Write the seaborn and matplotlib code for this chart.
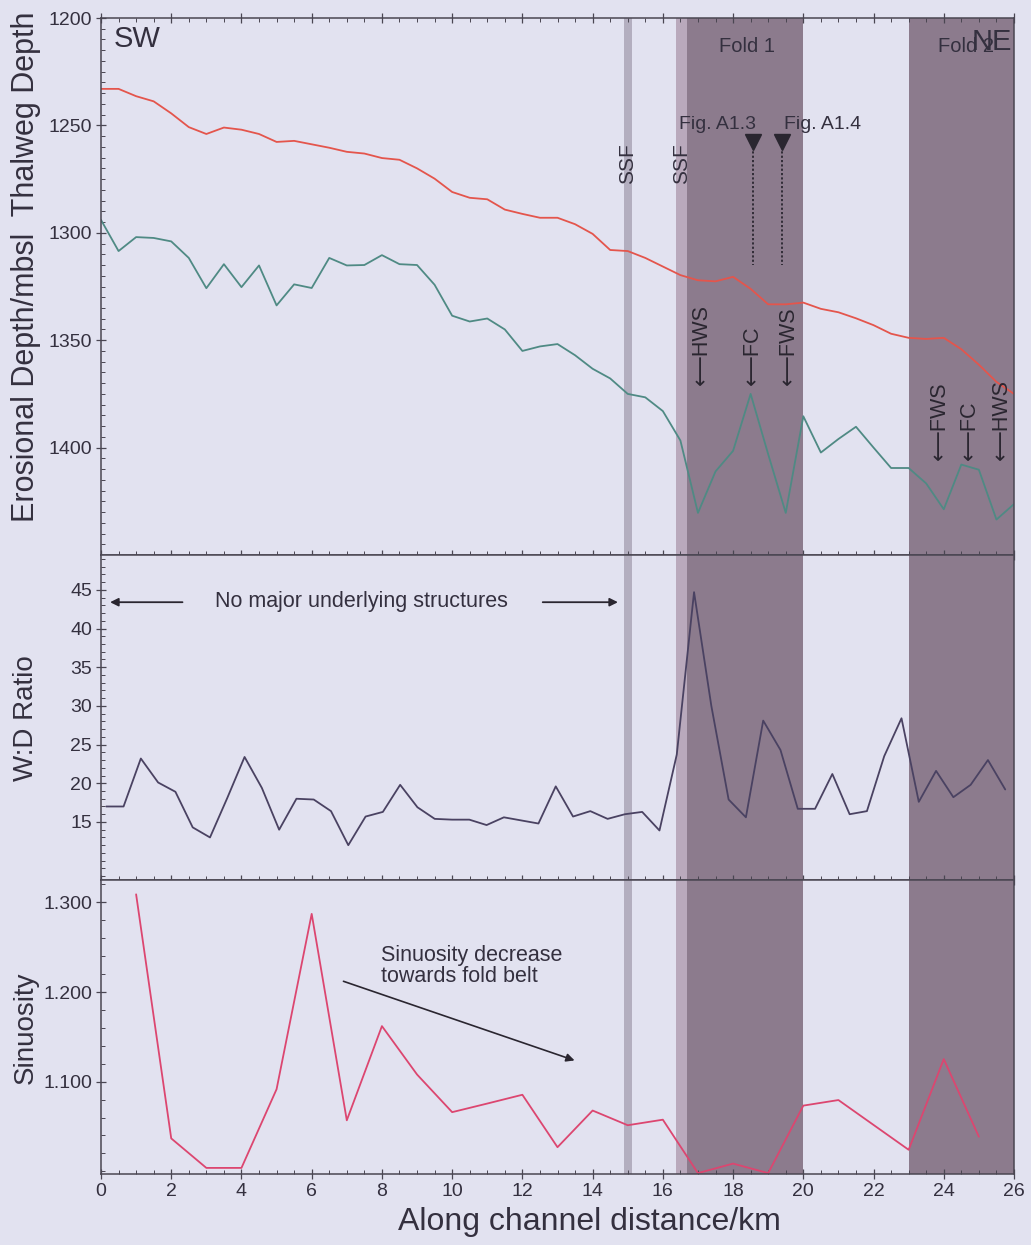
import numpy as np
import matplotlib
matplotlib.use("Agg")
import matplotlib.pyplot as plt
import seaborn as sns
from matplotlib.ticker import MultipleLocator, FixedLocator
from matplotlib import font_manager

# ---------------- data ----------------
depth_km = np.arange(0, 26.01, 0.5)          # stations every 0.5 km
thalweg_depth = [1233, 1233, 1236.4, 1238.8, 1244.4, 1250.8, 1254, 1251, 1252, 1254,
                 1257.7, 1257.2, 1258.8, 1260.4, 1262.3, 1263.1, 1265.2, 1266, 1270, 1274.8,
                 1281, 1283.7, 1284.4, 1289.2, 1291.2, 1293, 1293, 1296, 1300.5, 1308,
                 1308.5, 1311.7, 1315.7, 1319.7, 1322.1, 1322.6, 1320.5, 1326.1, 1333.3, 1333.3,
                 1332.5, 1335.4, 1337, 1339.8, 1343, 1347, 1348.9, 1349.4, 1348.9, 1354.2,
                 1361.4, 1369.4, 1375]
erosional_depth = [1294, 1308.5, 1302, 1302.4, 1304, 1311.7, 1325.8, 1314.6, 1325.3, 1315.2,
                   1333.8, 1324, 1325.7, 1311.7, 1315.2, 1315, 1310.4, 1314.6, 1315, 1324.2,
                   1338.6, 1341.3, 1339.9, 1345, 1355, 1352.9, 1351.8, 1357, 1363.3, 1367.8,
                   1375, 1376.6, 1383, 1396.7, 1430.4, 1411.1, 1401.5, 1375, 1403.1, 1430.4,
                   1385.4, 1402.3, 1396, 1390.3, 1400, 1409.5, 1409.5, 1416.7, 1428.7, 1407.9,
                   1410.3, 1433.5, 1426.3]

wd_km = np.linspace(0.15, 25.75, 53)
wd_ratio = [17.0, 17.0, 23.2, 20.1, 18.9, 14.3, 13.0, 18.1, 23.4, 19.4,
            14.0, 18.0, 17.9, 16.4, 12.0, 15.7, 16.3, 19.8, 16.9, 15.4,
            15.3, 15.3, 14.6, 15.6, 15.2, 14.8, 19.6, 15.7, 16.4, 15.4,
            16.0, 16.3, 13.9, 23.7, 44.7, 30.0, 17.9, 15.6, 28.1, 24.3,
            16.7, 16.7, 21.2, 16.0, 16.4, 23.5, 28.4, 17.6, 21.6, 18.2,
            19.8, 23.0, 19.2]

sin_km = [1, 2, 3, 4, 5, 6, 7, 8, 9, 10, 11, 12, 13, 14, 15, 16, 17, 18, 19, 20, 21, 23, 24, 25]
sinuosity = [1.309, 1.0367, 1.0038, 1.0038, 1.0916, 1.2872, 1.0569, 1.162, 1.108, 1.066,
             1.0756, 1.0854, 1.0269, 1.0678, 1.0514, 1.0576, 0.998, 1.0086, 0.998, 1.0733,
             1.0795, 1.024, 1.1252, 1.0386]

# structural zones (start km, end km)
ssf_zone = (14.88, 15.12)
ssf2_zone = (16.38, 16.68)
fold1_zone = (16.68, 20.0)
fold2_zone = (23.0, 26.0)

hws_fold1 = [(17.1, "\u27f5HWS"), (18.56, "\u27f5FC"), (19.57, "\u27f5FWS")]
hws_fold2 = [(23.87, "\u27f5FWS"), (24.73, "\u27f5FC"), (25.65, "\u27f5HWS")]
fig_sections = [(18.56, "Fig. A1.3", 17.55), (19.38, "Fig. A1.4", 20.56)]

# ---------------- style ----------------
sns.set_theme(style="ticks")
avail = {f.name for f in font_manager.fontManager.ttflist}
narrow = 'Liberation Sans Narrow' if 'Liberation Sans Narrow' in avail else 'Liberation Sans'
plt.rcParams['font.family'] = ['Liberation Sans', 'DejaVu Sans']

BG = '#e2e2f0'
DARK = '#8c7b8d'
SSF_C = '#b3aebf'
SSF2_C = '#b9a9bc'
TXT = '#34303f'
SPINE = '#4a4652'
RED = '#e4554c'
GREEN = '#4f8a84'
WD_C = '#4a4262'
SIN_C = '#dc4670'

fig = plt.figure(figsize=(10.31, 12.45), dpi=100, facecolor=BG)
L, R = 101 / 1031, 1014 / 1031
def fy(px):
    return 1 - px / 1245

ax1 = fig.add_axes([L, fy(555), R - L, fy(18) - fy(555)])
ax2 = fig.add_axes([L, fy(880), R - L, fy(555) - fy(880)], sharex=ax1)
ax3 = fig.add_axes([L, fy(1174), R - L, fy(880) - fy(1174)], sharex=ax1)

for ax in (ax1, ax2, ax3):
    ax.set_facecolor(BG)
    ax.axvspan(*ssf_zone, color=SSF_C, lw=0, zorder=0.5)
    ax.axvspan(*ssf2_zone, color=SSF2_C, lw=0, zorder=0.5)
    ax.axvspan(*fold1_zone, color=DARK, lw=0, zorder=0.5)
    ax.axvspan(*fold2_zone, color=DARK, lw=0, zorder=0.5)
    for s in ax.spines.values():
        s.set_color(SPINE)
        s.set_linewidth(1.1)
    ax.set_xlim(0, 26)
    ax.xaxis.set_major_locator(MultipleLocator(2))
    ax.xaxis.set_minor_locator(MultipleLocator(0.5))
    ax.tick_params(axis='both', which='major', direction='inout', length=7, width=0.9,
                   color=SPINE, labelsize=14, labelcolor=TXT, pad=3)
    ax.tick_params(axis='both', which='minor', direction='in', length=3, width=0.7, color=SPINE)
    ax.set_xlabel("")
    ax.set_ylabel("")

# ---- top panel ----
sns.lineplot(x=depth_km, y=thalweg_depth, ax=ax1, color=RED, lw=1.3, estimator=None, sort=False)
sns.lineplot(x=depth_km, y=erosional_depth, ax=ax1, color=GREEN, lw=1.3, estimator=None, sort=False)
ax1.set_ylim(1450, 1200)
ax1.yaxis.set_major_locator(FixedLocator([1200, 1250, 1300, 1350, 1400]))
ax1.yaxis.set_minor_locator(MultipleLocator(5))
ax1.tick_params(labelbottom=False)
ax1.tick_params(axis='x', which='both', top=True)

ax1.text(0.35, 1210, "SW", fontsize=21, color=TXT, ha='left', va='center')
ax1.text(18.4, 1213.5, "Fold 1", fontsize=14.5, color=TXT, ha='center', va='center')
ax1.text(24.63, 1213.5, "Fold 2", fontsize=14.5, color=TXT, ha='center', va='center')
ax1.text(25.95, 1211, "NE", fontsize=21, color=TXT, ha='right', va='center')
for xk, lab, tx in fig_sections:
    ax1.text(tx, 1249.5, lab, fontsize=14, color=TXT, ha='center', va='center')
    ax1.plot([xk, xk], [1260, 1315], color='#2a2630', lw=1.3, ls=(0, (1.2, 1.2)))
    ax1.plot([xk], [1257.5], marker='v', ms=11, color='#2a2630', mec='#2a2630')
for xk in (15.0, 16.53):
    ax1.text(xk, 1268, "SSF", fontsize=15, color=TXT, rotation=90, ha='center', va='center')
for xk, lab in hws_fold1:
    ax1.text(xk, 1371, lab, fontsize=15.5, color='#2a2630', rotation=90, ha='center', va='bottom')
for xk, lab in hws_fold2:
    ax1.text(xk, 1406, lab, fontsize=15.5, color='#2a2630', rotation=90, ha='center', va='bottom')

# ---- middle panel ----
sns.lineplot(x=wd_km, y=wd_ratio, ax=ax2, color=WD_C, lw=1.3, estimator=None, sort=False)
ax2.set_ylim(7.5, 49.5)
ax2.yaxis.set_major_locator(FixedLocator([15, 20, 25, 30, 35, 40, 45]))
ax2.yaxis.set_minor_locator(MultipleLocator(1))
ax2.tick_params(labelbottom=False)
ax2.text(7.41, 43.5, "No major underlying structures", fontsize=15.5, color=TXT,
         ha='center', va='center')
ax2.annotate("", xy=(0.18, 43.4), xytext=(2.4, 43.4),
             arrowprops=dict(arrowstyle='-|>', color='#2a2630', lw=1.3, mutation_scale=12))
ax2.annotate("", xy=(14.8, 43.4), xytext=(12.5, 43.4),
             arrowprops=dict(arrowstyle='-|>', color='#2a2630', lw=1.3, mutation_scale=12))

# ---- bottom panel ----
sns.lineplot(x=sin_km, y=sinuosity, ax=ax3, color=SIN_C, lw=1.3, estimator=None, sort=False)
ax3.set_ylim(0.997, 1.325)
ax3.yaxis.set_major_locator(FixedLocator([1.1, 1.2, 1.3]))
ax3.set_yticklabels(["1.100", "1.200", "1.300"])
ax3.yaxis.set_minor_locator(MultipleLocator(0.02))
ax3.text(7.98, 1.253, "Sinuosity decrease\ntowards fold belt", fontsize=15.5, color=TXT,
         ha='left', va='top', linespacing=1.05)
ax3.annotate("", xy=(13.56, 1.1227), xytext=(6.83, 1.213),
             arrowprops=dict(arrowstyle='-|>', color='#2a2630', lw=1.2, mutation_scale=12))

# ---- axis titles ----
fig.text(26 / 1031, fy(267), "Erosional Depth/mbsl  Thalweg Depth", rotation=90,
         ha='center', va='center', fontsize=22, color=TXT, family=[narrow, 'DejaVu Sans'])
fig.text(26 / 1031, fy(718), "W:D Ratio", rotation=90, ha='center', va='center',
         fontsize=20, color=TXT, family=[narrow, 'DejaVu Sans'])
fig.text(26 / 1031, fy(1028), "Sinuosity", rotation=90, ha='center', va='center',
         fontsize=20, color=TXT, family=[narrow, 'DejaVu Sans'])
fig.text(589 / 1031, fy(1222), "Along channel distance/km", ha='center', va='center',
         fontsize=23, color=TXT)

fig.savefig("out.png", dpi=100, facecolor=BG)
